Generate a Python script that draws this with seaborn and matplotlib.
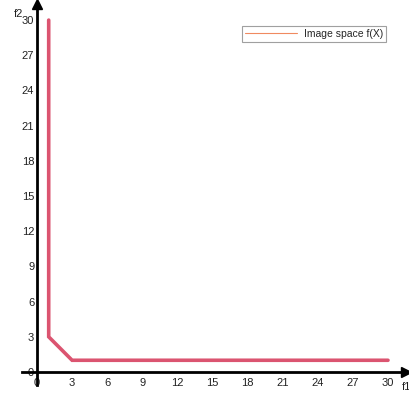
import matplotlib
matplotlib.use("Agg")
import matplotlib.pyplot as plt
import seaborn as sns
import pandas as pd

f1 = [1, 1, 3, 30]
f2 = [30, 3, 1, 1]
ticks = [0, 3, 6, 9, 12, 15, 18, 21, 24, 27, 30]
series_label = "Image space f(X)"

sns.set_style("white")
plt.rcParams['font.family'] = ['Liberation Sans', 'DejaVu Sans']

W, H = 410, 397
fig = plt.figure(figsize=(W / 100, H / 100), dpi=100)
# data->pixel: px = 37 + 11.7*x, py = 372 - 11.73*y
x0, x1 = -1.3, 31.5
y0, y1 = -1.1, 31.4
left = (37 + 11.7 * x0) / W
right = (37 + 11.7 * x1) / W
bottom = 1 - (372 - 11.73 * y0) / H
top = 1 - (372 - 11.73 * y1) / H
ax = fig.add_axes([left, bottom, right - left, top - bottom])

df = pd.DataFrame({"f1": f1, "f2": f2})
sns.lineplot(data=df, x="f1", y="f2", sort=False, estimator=None, errorbar=None,
             ax=ax, color="#db5470", linewidth=2.6, label=series_label)
for ln in ax.lines:
    ln.set_solid_joinstyle("miter")

ax.set_xlim(x0, x1)
ax.set_ylim(y0, y1)
for s in ["top", "right"]:
    ax.spines[s].set_visible(False)
ax.spines["left"].set_position(("data", 0))
ax.spines["bottom"].set_position(("data", 0))
ax.spines["left"].set_linewidth(2)
ax.spines["bottom"].set_linewidth(2)
ax.spines["left"].set_color("black")
ax.spines["bottom"].set_color("black")
ax.plot(1, 0, ">k", transform=ax.get_yaxis_transform(), clip_on=False, markersize=7)
ax.plot(0, 1, "^k", transform=ax.get_xaxis_transform(), clip_on=False, markersize=7)

ax.set_xticks(ticks)
ax.set_yticks(ticks)
ax.tick_params(axis="both", direction="in", length=3, width=0.6, colors="#555555",
               labelsize=8, labelcolor="#222222")
ax.tick_params(axis="x", pad=4)
ax.tick_params(axis="y", pad=2)
ax.set_xlabel("")
ax.set_ylabel("")
fig.text(14 / W, 1 - 14 / H, "f2", fontsize=8, ha="left", va="center", color="#222222")
fig.text(402 / W, 1 - 387 / H, "f1", fontsize=8, ha="left", va="center", color="#222222")

leg = ax.legend(loc="upper right", bbox_to_anchor=((386 - left * W) / (ax.get_position().width * W), 1 - (26 - (1 - top) * H) / (ax.get_position().height * H)),
                fontsize=7.5, frameon=True, fancybox=False, edgecolor="#888888",
                borderpad=0.3, handlelength=5, handletextpad=0.6, borderaxespad=0)
for h in leg.legend_handles:
    h.set_color("#f08a60")
    h.set_linewidth(0.8)
leg.get_frame().set_linewidth(0.8)

fig.savefig("out.png", dpi=100)
